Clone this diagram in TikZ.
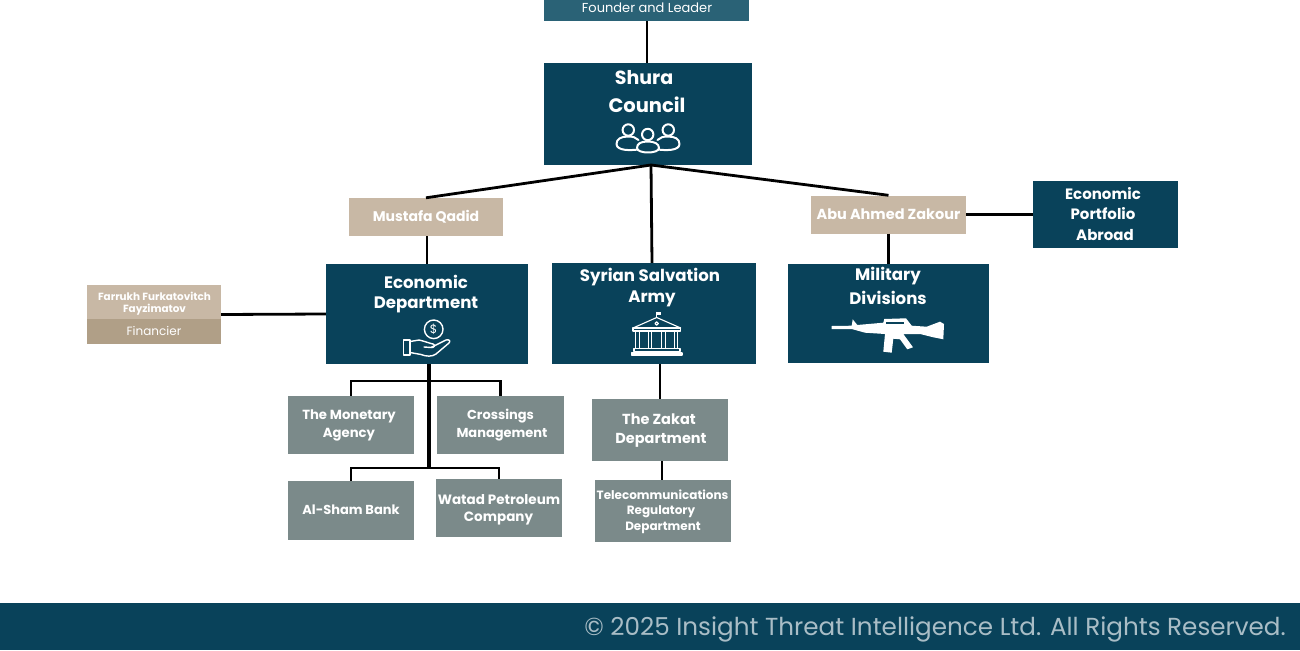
\documentclass[tikz,border=0pt]{standalone}
\usepackage{fontspec}
\setmainfont{Poppins}
\definecolor{navy}{HTML}{09425A}
\definecolor{teal}{HTML}{2A6276}
\definecolor{tan}{HTML}{C8B8A5}
\definecolor{tandark}{HTML}{B09F87}
\definecolor{slate}{HTML}{7B8A8A}
\definecolor{foot}{HTML}{A9BDC6}
\newcommand{\fs}[1]{\fontsize{#1}{#1}\selectfont}
\tikzset{
  x=1pt,y=-1pt,
  boxn/.style={fill=navy,inner sep=0pt,align=center,text=white,font=\fs{16.6}\bfseries},
  boxt/.style={fill=tan,inner sep=0pt,align=center,text=white,font=\fs{14}\bfseries},
  boxg/.style={fill=slate,inner sep=0pt,align=center,text=white,font=\fs{13}\bfseries},
  lab/.style={inner sep=0pt,align=center,text=white,font=\fs{16.6}\bfseries},
  link/.style={draw=black,line width=2.8pt},
  icon/.style={draw=white,line width=2pt,line join=round,line cap=round},
}
\begin{document}
\begin{tikzpicture}
\useasboundingbox (0,0) rectangle (1300,650);
\fill[white] (0,0) rectangle (1300,650);
\coordinate (apex) at (651,165);
\coordinate (econs) at (429,364);
\coordinate (busA) at (429,381);
\coordinate (busB) at (429,468);
\node[fill=teal,inner sep=0pt,minimum width=205pt,minimum height=26pt] (founder) at (646.5,8) {};
\node[boxn,minimum width=208pt,minimum height=102pt] (shura) at (648,114) {};
\node[boxt,minimum width=154pt,minimum height=38pt] (mustafa) at (426,217) {\raisebox{-1pt}{Mustafa Qadid}};
\node[boxt,font=\fs{14.5}\bfseries,minimum width=155pt,minimum height=38pt] (abu) at (888.5,214.5) {\raisebox{-0.5pt}{Abu Ahmed Zakour}};
\node[boxn,minimum width=145pt,minimum height=67pt] (portfolio) at (1105.5,214.5) {};
\node[boxn,minimum width=202pt,minimum height=100pt] (econ) at (427,314) {};
\node[boxn,minimum width=204pt,minimum height=101pt] (syrian) at (654,313.5) {};
\node[boxn,minimum width=201pt,minimum height=99pt] (military) at (888.5,313.5) {};
\node[fill=tan,inner sep=0pt,minimum width=134pt,minimum height=34pt] (farrukh) at (154,302) {};
\node[fill=tandark,inner sep=0pt,minimum width=134pt,minimum height=25pt,text=white,font=\fs{12}] (financier) at (154,331.5) {\raisebox{1.5pt}{Financier}};
\node[boxg,minimum width=126pt,minimum height=58pt] (monetary) at (351,425) {};
\node[boxg,minimum width=127pt,minimum height=58pt] (crossings) at (500.5,425) {};
\node[boxg,minimum width=126pt,minimum height=59pt] (alsham) at (351,510.5) {\raisebox{1pt}{Al-Sham Bank}};
\node[boxg,minimum width=126pt,minimum height=58pt] (watad) at (499,508) {};
\node[boxg,minimum width=136pt,minimum height=62pt] (zakat) at (660,430) {};
\node[boxg,minimum width=136pt,minimum height=62pt] (telecom) at (663,511) {};

\draw[link] (founder.south -| 647,0) -- (shura.north -| 647,0);
\draw[link] (apex) -- (mustafa.north);
\draw[link] (apex) -- (abu.north);
\draw[link] (apex) -- ([xshift=-2pt]syrian.north);
\draw[link] ([xshift=1pt]mustafa.south) -- ([xshift=0pt]econ.north);
\draw[link] (abu.south) -- (military.north);
\draw[link] (abu.east) -- (portfolio.west);
\draw[link] (farrukh.east |- 0,314.5) -- (econ.west);
\draw[link,line width=3.5pt] (econs) -- (busB);
\draw[link,line join=miter] (monetary.north) -- (monetary.north |- busA) -- (crossings.north |- busA) -- (crossings.north);
\draw[link,line join=miter] (alsham.north) -- (alsham.north |- busB) -- (watad.north |- busB) -- (watad.north);
\draw[link] (syrian.south -| zakat.north) -- (zakat.north);
\draw[link] (zakat.south -| 662,0) -- (telecom.north -| 662,0);

\node[inner sep=0pt,text=white,font=\fs{13}] (tfounder) at (647,8) {Founder and Leader};
\node[lab,font=\fs{19}\bfseries] (tshura) at (644,78) {Shura};
\node[lab,font=\fs{19.5}\bfseries] (tcouncil) at (647,104.5) {Council};
\node[lab] (teco1) at (426,282) {Economic};
\node[lab] (teco2) at (426,305) {Department};
\node[lab] (tsyr1) at (650,277) {Syrian Salvation};
\node[lab] (tsyr2) at (652,299) {Army};
\node[lab] (tmil1) at (888,276) {Military};
\node[lab] (tmil2) at (888,298) {Divisions};
\node[lab,font=\fs{15}\bfseries] (tp1) at (1103,193.5) {Economic};
\node[lab,font=\fs{15}\bfseries] (tp2) at (1103,214) {Portfolio};
\node[lab,font=\fs{15}\bfseries] (tp3) at (1105,235) {Abroad};
\node[lab,font=\fs{10.4}\bfseries] (tf1) at (154.5,296) {Farrukh Furkatovitch};
\node[lab,font=\fs{10.4}\bfseries] (tf2) at (154.5,309.5) {Fayzimatov};
\node[lab,font=\fs{13.2}\bfseries] (tm1) at (349,416.5) {The Monetary};
\node[lab,font=\fs{13.2}\bfseries] (tm2) at (349,435) {Agency};
\node[lab,font=\fs{13}\bfseries] (tc1) at (500.5,416.5) {Crossings};
\node[lab,font=\fs{13}\bfseries] (tc2) at (502,435) {Management};
\node[lab,font=\fs{13.5}\bfseries] (tw1) at (499,500) {Watad Petroleum};
\node[lab,font=\fs{13.5}\bfseries] (tw2) at (498.5,518) {Company};
\node[lab,font=\fs{14.5}\bfseries] (tz1) at (659,419.5) {The Zakat};
\node[lab,font=\fs{14.5}\bfseries] (tz2) at (661,440) {Department};
\node[lab,font=\fs{12}\bfseries] (tt1) at (662.5,494.5) {Telecommunications};
\node[lab,font=\fs{12}\bfseries] (tt2) at (661,511.5) {Regulatory};
\node[lab,font=\fs{12}\bfseries] (tt3) at (663,528) {Department};

\begin{scope}[icon]
\draw (638,149.5) .. controls (631,150.5) and (616.5,151) .. (616.5,144) .. controls (616.5,139) and (621,136.5) .. (628,136.5) .. controls (633,136.5) and (636,137.5) .. (638.5,140);
\draw (658,149.5) .. controls (665,150.5) and (679.5,151) .. (679.5,144) .. controls (679.5,139) and (675,136.5) .. (668,136.5) .. controls (663,136.5) and (660,137.5) .. (657.5,140);
\draw (628.3,130) circle[radius=5.7];
\draw (668.3,130) circle[radius=5.7];
\draw (647.7,134.5) circle[radius=5.7];
\draw (637,148) .. controls (637,143.5) and (641,141.5) .. (647.7,141.5) .. controls (654,141.5) and (659,143.5) .. (659,148) .. controls (659,154) and (637,154) .. (637,148) -- cycle;
\end{scope}
\begin{scope}[icon,line width=1.4pt]
\draw (433.7,329.3) circle[radius=9.3];
\draw (403.3,340) rectangle (410,355);
\draw (410,341.5) -- (419,340) .. controls (424,341) and (430,343.5) .. (433,344) .. controls (436,345) and (434,348) .. (431,347.5) -- (424,347);
\draw (431,347.5) -- (446,340) .. controls (449,339) and (451,341) .. (449,343) -- (436,354) .. controls (432,357) and (426,356.5) .. (421,354.5) -- (410,352.5);
\end{scope}
\node[inner sep=0pt,text=white,font=\fs{12}] (tdollar) at (433.7,329.3) {\$};
\begin{scope}[icon,line width=1.1pt]
\draw (656.7,317) -- (656.7,312.5);
\fill[white] (656.7,312) rectangle (661,315);
\draw (633,328) -- (656.7,317.5) -- (680.7,328) -- cycle;
\draw (656.7,323.5) circle[radius=1.7];
\draw (633,328) rectangle (680.7,331);
\foreach \cx in {637.7,650,663.3,676}{\draw (\cx-1.8,331) -- (\cx-1.8,348) (\cx+1.8,331) -- (\cx+1.8,348);}
\draw (634,348.5) rectangle (680,351.5);
\draw (631.5,353) rectangle (682,355);
\end{scope}
\fill[white] (831.7,326) -- (851.7,325.7) -- (852.7,319.3) -- (857.3,325) -- (883.3,322.7) -- (884.3,319) -- (906,318.3) -- (911.7,325.7) -- (926.7,326.7) -- (940,321.7) -- (944,324) -- (943.3,339.3) -- (933.3,337.3) -- (920,334) -- (903.3,334) -- (913,347.3) -- (907.3,349.3) -- (900,339.3) -- (893.3,338.7) -- (891.7,352.7) -- (883.3,351.7) -- (885,334) -- (865,332.7) -- (851.7,329) -- (831.7,329) -- cycle;
\fill[navy] (886,321.5) rectangle (904,324);
\node[fill=navy,inner sep=0pt,minimum width=1300pt,minimum height=47pt] (footer) at (650,626.5) {};
\node[anchor=east,inner sep=0pt,text=foot,font=\fs{24.65}] (tfooter) at (1286,629) {© 2025 Insight Threat Intelligence Ltd. All Rights Reserved.};
\end{tikzpicture}
\end{document}
